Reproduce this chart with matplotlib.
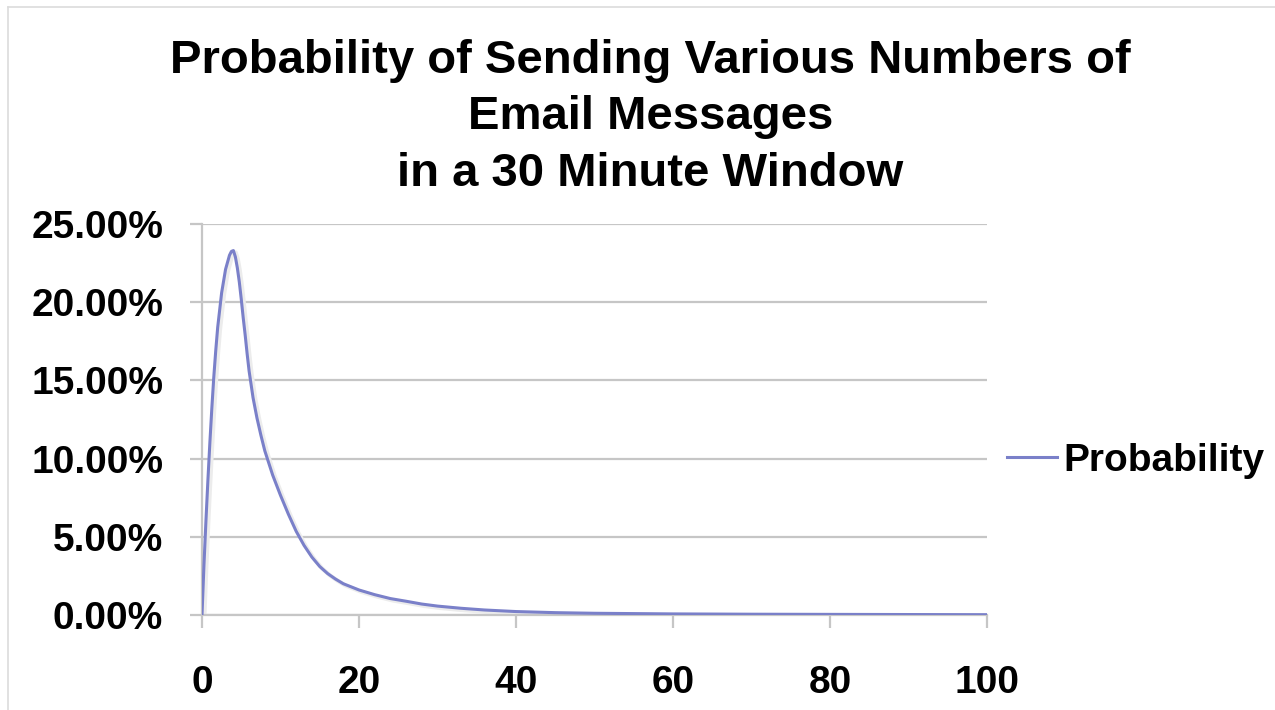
import matplotlib
matplotlib.use("Agg")
import matplotlib.pyplot as plt
from matplotlib.ticker import FuncFormatter, MultipleLocator
from matplotlib.lines import Line2D

plt.rcParams['font.family'] = ['Liberation Sans', 'DejaVu Sans']

# Emails sent in a 30 minute window vs. probability (%)
messages = [0, 0.25, 0.5, 0.75, 1, 1.25, 1.5, 1.75, 2, 2.5, 3, 3.5, 3.75, 4,
            4.25, 4.5, 4.75, 5, 5.25, 5.5, 5.75, 6, 6.5, 7, 7.5, 8, 9, 10, 11,
            12, 13, 14, 15, 16, 17, 18, 20, 22, 24, 26, 28, 30, 33, 36, 40,
            45, 50, 60, 70, 80, 90, 100]
probability = [0, 3.2, 6.0, 8.6, 11.0, 13.2, 15.2, 16.9, 18.4, 20.6, 22.1,
               23.0, 23.25, 23.3, 22.9, 22.2, 21.3, 20.2, 19.0, 17.9, 16.7,
               15.6, 13.9, 12.6, 11.5, 10.5, 8.95, 7.65, 6.45, 5.35, 4.45, 3.7,
               3.1, 2.65, 2.3, 2.0, 1.6, 1.3, 1.05, 0.88, 0.7, 0.57, 0.43,
               0.32, 0.22, 0.15, 0.11, 0.07, 0.05, 0.04, 0.03, 0.02]
x_ticks = [0, 20, 40, 60, 80, 100]
series_name = "Probability"
title = "Probability of Sending Various Numbers of\nEmail Messages\nin a 30 Minute Window"

line_color = "#7a80c9"
grid_color = "#c6c6c6"

fig = plt.figure(figsize=(12.75, 7.1), dpi=100)
ax = fig.add_axes([202 / 1275, 95 / 710, 785 / 1275, 391 / 710])

# faint drop shadow under the series, then the series itself
ax.plot([m + 0.3 for m in messages], [p - 0.12 for p in probability],
        color="#ececec", lw=3.0, zorder=2, solid_capstyle="round")
ax.plot(messages, probability, color=line_color, lw=2.2, zorder=3,
        solid_joinstyle="round")

ax.set_xlim(0, 100)
ax.set_ylim(0, 25)
ax.set_xticks(x_ticks)
ax.yaxis.set_major_locator(MultipleLocator(5))
ax.yaxis.set_major_formatter(FuncFormatter(lambda v, _: f"{v:.2f}%"))

ax.grid(axis="y", color=grid_color, lw=1.6)
ax.set_axisbelow(True)
for side in ("top", "right"):
    ax.spines[side].set_visible(False)
for side in ("left", "bottom"):
    ax.spines[side].set_color(grid_color)
    ax.spines[side].set_linewidth(1.6)

ax.tick_params(axis="both", colors=grid_color, width=1.6, length=9,
               labelcolor="black", labelsize=28)
ax.tick_params(axis="x", pad=27)
ax.tick_params(axis="y", pad=19)
for lbl in ax.get_xticklabels() + ax.get_yticklabels():
    lbl.set_fontweight("bold")

fig.text(0.51, 0.945, title, ha="center", va="top", fontsize=34,
         fontweight="bold", linespacing=1.36)

# legend entry at the right
handle = Line2D([], [], color=line_color, lw=2.2)
leg = fig.legend([handle], [series_name], loc="center left",
                 bbox_to_anchor=(1007 / 1275, 1 - 461 / 710), frameon=False,
                 borderpad=0, borderaxespad=0,
                 handlelength=1.28, handletextpad=0.18,
                 prop={"size": 28, "weight": "bold"})

# thin frame along the top and left edges
fig.add_artist(Line2D([8 / 1275, 1], [1 - 7 / 710] * 2, color="#dcdcdc", lw=1.2))
fig.add_artist(Line2D([8 / 1275] * 2, [0, 1 - 7 / 710], color="#dcdcdc", lw=1.2))

fig.savefig("out.png", dpi=100, facecolor="white")
